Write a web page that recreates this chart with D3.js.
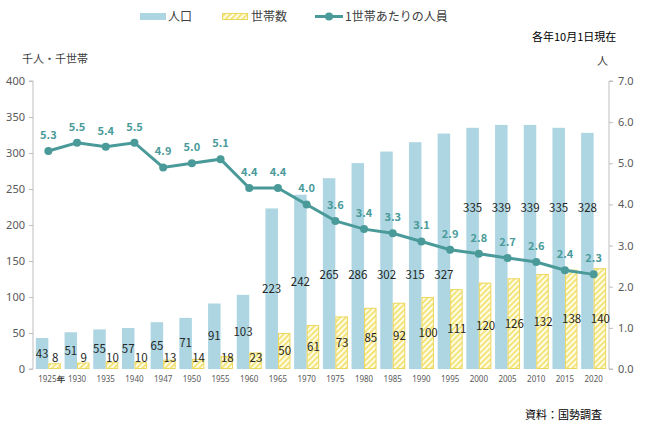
<!DOCTYPE html>
<html><head><meta charset="utf-8">
<script src="https://cdn.jsdelivr.net/npm/d3@7"></script>
<style>
body{margin:0;background:#fff;}
text{font-family:"Noto Sans CJK JP","Noto Sans",sans-serif;}
</style></head>
<body><svg id="c" width="656" height="439"></svg>
<script>
const years = ["1925","1930","1935","1940","1947","1950","1955","1960","1965","1970","1975","1980","1985","1990","1995","2000","2005","2010","2015","2020"];
const population = [43,51,55,57,65,71,91,103,223,242,265,286,302,315,327,335,339,339,335,328];
const households = [8,9,10,10,13,14,18,23,50,61,73,85,92,100,111,120,126,132,138,140];
const perHousehold = [5.3,5.5,5.4,5.5,4.9,5.0,5.1,4.4,4.4,4.0,3.6,3.4,3.3,3.1,2.9,2.8,2.7,2.6,2.4,2.3];
const leftTicks = [0,50,100,150,200,250,300,350,400];
const rightTicks = [0,1,2,3,4,5,6,7];

const svg = d3.select("#c");
const pL = 34, pR = 608, pT = 81, pB = 369;
const x = d3.scaleBand().domain(years).range([pL, pR]).paddingInner(0).paddingOuter(0);
const yL = d3.scaleLinear().domain([0,400]).range([pB, pT]);
const yR = d3.scaleLinear().domain([0,7]).range([pB, pT]);
const bw = 12.5;
const cx = y => x(y) + x.bandwidth()/2;

const popColor = "#ADD6E2", lineColor = "#4A9A9A", axisColor = "#BFBFBF", tickText = "#595959";

const defs = svg.append("defs");
const pat = defs.append("pattern").attr("id","hatch").attr("patternUnits","userSpaceOnUse")
  .attr("width",4).attr("height",4).attr("patternTransform","rotate(45)");
pat.append("rect").attr("width",4).attr("height",4).attr("fill","#FFFCE8");
pat.append("rect").attr("width",2).attr("height",4).attr("fill","#F3E47C");

// Axes
const axL = d3.axisLeft(yL).tickValues(leftTicks).tickSize(4).tickPadding(4).tickFormat(d3.format("d"));
const gL = svg.append("g").attr("transform",`translate(${pL-1},0)`).call(axL);
const axR = d3.axisRight(yR).tickValues(rightTicks).tickSize(4).tickPadding(5).tickFormat(d3.format(".1f"));
const gR = svg.append("g").attr("transform",`translate(${pR+1},0)`).call(axR);
[gL,gR].forEach(g=>{
  g.select(".domain").attr("stroke",axisColor).attr("d", g===gL ? `M-4,${pT}H0V${pB}H-4` : `M4,${pT}H0V${pB}H4`);
  g.selectAll(".tick line").attr("stroke",axisColor);
  g.selectAll(".tick text").attr("fill",tickText).attr("font-size","11px").style("font-family","'Noto Sans','DejaVu Sans',sans-serif");
});

const axX = d3.axisBottom(x).tickSize(0).tickPadding(7);
const gX = svg.append("g").attr("transform",`translate(0,${pB})`).call(axX);
gX.select(".domain").remove();
gX.selectAll(".tick text").attr("fill",tickText).attr("font-size","8px").style("font-family","'Noto Sans','DejaVu Sans',sans-serif")
  .each(function(d,i){ if(i===0){ const t=d3.select(this); t.text(d); t.append("tspan").attr("fill","#333").attr("font-weight","bold").text("年"); t.attr("dx","3"); } });

// Bars
svg.append("g").selectAll("rect").data(years).join("rect")
  .attr("x", d=>cx(d)-bw).attr("width", bw)
  .attr("y", (d,i)=>yL(population[i])).attr("height",(d,i)=>yL(0)-yL(population[i]))
  .attr("fill", popColor);
svg.append("g").selectAll("rect").data(years).join("rect")
  .attr("x", d=>cx(d)+0.5).attr("width", bw-1)
  .attr("y", (d,i)=>yL(households[i])+0.5).attr("height",(d,i)=>Math.max(0,yL(0)-yL(households[i])-1))
  .attr("fill","url(#hatch)").attr("stroke","#EBD85E").attr("stroke-width",1);

// Bar labels
svg.append("g").selectAll("text").data(years).join("text")
  .attr("x", d=>cx(d)-bw/2).attr("y",(d,i)=>{const v=population[i]; return yL(+d<2000?Math.min(v/2,131):224);})
  .attr("dy","0.35em").attr("text-anchor","middle").attr("font-size","11.5px").attr("fill","#262626")
  .text((d,i)=>population[i]);
svg.append("g").selectAll("text").data(years).join("text")
  .attr("x", d=>cx(d)+bw/2+0.5).attr("y",(d,i)=>yL(Math.max(households[i]/2,15)))
  .attr("dy","0.35em").attr("text-anchor","middle").attr("font-size","11.5px").attr("fill","#262626")
  .text((d,i)=>households[i]);

// Line
const line = d3.line().x(d=>cx(d)).y((d,i)=>yR(perHousehold[i]));
svg.append("path").datum(years).attr("d",line).attr("fill","none").attr("stroke",lineColor).attr("stroke-width",3);
svg.append("g").selectAll("circle").data(years).join("circle")
  .attr("cx",d=>cx(d)).attr("cy",(d,i)=>yR(perHousehold[i])).attr("r",4).attr("fill",lineColor);
svg.append("g").selectAll("text").data(years).join("text")
  .attr("x",d=>cx(d)).attr("y",(d,i)=>yR(perHousehold[i])-16).attr("dy","0.35em")
  .attr("text-anchor","middle").attr("font-size","11px").attr("font-weight","bold").attr("fill",lineColor)
  .text((d,i)=>d3.format(".1f")(perHousehold[i]));

// Axis titles
svg.append("text").attr("x",22).attr("y",63).attr("font-size","11px").attr("fill","#404040").text("千人・千世帯");
svg.append("text").attr("x",597).attr("y",65).attr("font-size","11px").attr("fill","#404040").text("人");
svg.append("text").attr("x",532).attr("y",41).attr("font-size","11px").attr("fill","#000").text("各年10月1日現在");
svg.append("text").attr("x",525).attr("y",419).attr("font-size","11px").attr("fill","#000").text("資料：国勢調査");

// Legend
const lg = svg.append("g");
lg.append("rect").attr("x",140).attr("y",13).attr("width",26).attr("height",7).attr("fill",popColor);
lg.append("text").attr("x",168).attr("y",21).attr("font-size","12px").attr("fill","#404040").text("人口");
lg.append("rect").attr("x",222.5).attr("y",13.5).attr("width",25).attr("height",6).attr("fill","url(#hatch)").attr("stroke","#EBD85E");
lg.append("text").attr("x",251).attr("y",21).attr("font-size","12px").attr("fill","#404040").text("世帯数");
lg.append("line").attr("x1",315).attr("x2",343).attr("y1",16.5).attr("y2",16.5).attr("stroke",lineColor).attr("stroke-width",3);
lg.append("circle").attr("cx",329).attr("cy",16.5).attr("r",4).attr("fill",lineColor);
lg.append("text").attr("x",345).attr("y",21).attr("font-size","12px").attr("fill","#404040").text("1世帯あたりの人員");
</script></body></html>
